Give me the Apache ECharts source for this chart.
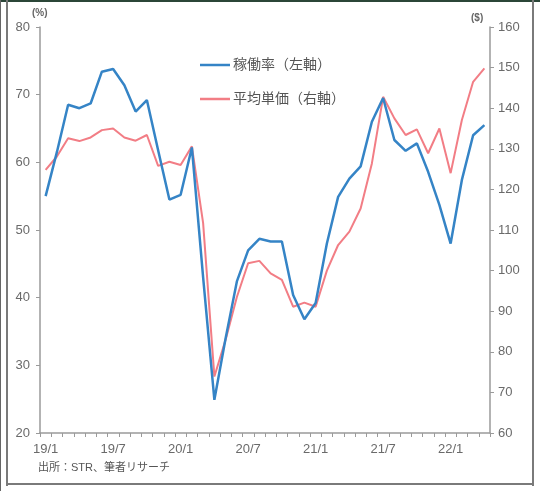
<!DOCTYPE html>
<html>
<head>
<meta charset="utf-8">
<script src="https://cdn.jsdelivr.net/npm/echarts@6/dist/echarts.min.js"></script>
<style>
html,body{margin:0;padding:0;background:#fff;}
#wrap{position:relative;width:540px;height:491px;overflow:hidden;}
#chart{position:absolute;left:0;top:0;width:540px;height:491px;}
.ln{position:absolute;pointer-events:none;}
</style>
</head>
<body>
<div id="wrap">
<div id="chart"></div>
<div class="ln" style="left:0;top:0;width:540px;height:2px;background:#2b4638;"></div>
<div class="ln" style="left:0;top:0;width:1px;height:491px;background:#666;"></div>
<div class="ln" style="left:6px;top:0;width:2px;height:486px;background:#7a7a7a;"></div>
<div class="ln" style="left:532px;top:0;width:2px;height:486px;background:#7a7a7a;"></div>
<div class="ln" style="left:6px;top:483px;width:528px;height:2px;background:#7a7a7a;"></div>
</div>
<script>
const categories = [
 '19/1','19/2','19/3','19/4','19/5','19/6','19/7','19/8','19/9','19/10','19/11','19/12',
 '20/1','20/2','20/3','20/4','20/5','20/6','20/7','20/8','20/9','20/10','20/11','20/12',
 '21/1','21/2','21/3','21/4','21/5','21/6','21/7','21/8','21/9','21/10','21/11','21/12',
 '22/1','22/2','22/3','22/4'
];
const occupancy = [
 55.0,61.5,68.5,68.0,68.7,73.4,73.8,71.4,67.5,69.2,61.8,54.5,
 55.2,62.2,43.0,24.9,34.0,42.4,47.0,48.7,48.3,48.3,40.4,36.8,
 39.2,48.0,54.9,57.6,59.4,66.0,69.5,63.3,61.7,62.8,58.6,53.7,
 48.0,57.4,64.0,65.5
];
const adr = [
 124.8,128.1,132.6,131.9,132.8,134.6,135.0,132.8,132.0,133.4,125.8,126.8,
 126.0,130.6,111.7,73.9,83.0,93.5,101.8,102.4,99.3,97.7,91.1,92.1,
 91.1,100.0,106.3,109.6,115.3,126.4,142.8,137.5,133.4,134.8,128.9,135.0,
 124.0,137.1,146.5,149.8
];
const seriesNames = ['稼働率（左軸）','平均単価（右軸）'];
const sourceText = '出所：STR、筆者リサーチ';

const FONT = '"Liberation Sans", Arial, "Noto Sans CJK JP", sans-serif';
const BLUE = '#3584c6';
const RED = '#f27d85';
const chart = echarts.init(document.getElementById('chart'));
const axisGray = '#9a9a9a';
const labelGray = '#6a6a6a';
const legendBase = {
  orient: 'vertical', left: 200, padding: 0, itemWidth: 30, itemHeight: 2.5,
  icon: 'rect', itemGap: 5,
  textStyle: {fontSize: 14, color: '#555', fontFamily: FONT, padding: [0, 0, 0, -2]}
};
chart.setOption({
  animation: false,
  backgroundColor: '#fff',
  textStyle: {fontFamily: FONT},
  grid: {left: 40, right: 50, top: 27, bottom: 58, containLabel: false},
  legend: [
    Object.assign({}, legendBase, {top: 58, data: [seriesNames[0]]}),
    Object.assign({}, legendBase, {top: 92, data: [seriesNames[1]]})
  ],
  graphic: [
    {type: 'text', left: 32, top: 8, style: {text: '(%)', fontSize: 10, fontWeight: 'bold', fill: '#666', fontFamily: FONT}},
    {type: 'text', left: 471, top: 13, style: {text: '($)', fontSize: 10, fontWeight: 'bold', fill: '#666', fontFamily: FONT}},
    {type: 'text', left: 38, top: 462, style: {text: sourceText, fontSize: 11, fill: '#555', fontFamily: FONT}}
  ],
  xAxis: {
    type: 'category', data: categories, boundaryGap: true,
    axisLine: {lineStyle: {color: axisGray, width: 1.5}},
    axisTick: {show: true, interval: 0, length: 4, lineStyle: {color: axisGray}},
    axisLabel: {interval: 5, color: labelGray, fontSize: 13, margin: 10, fontFamily: FONT},
    splitLine: {show: false}
  },
  yAxis: [
    {type: 'value', min: 20, max: 80, interval: 10, position: 'left',
     axisLine: {show: true, lineStyle: {color: axisGray, width: 1.5}},
     axisTick: {show: true, length: 4, lineStyle: {color: axisGray}},
     axisLabel: {color: labelGray, fontSize: 13, margin: 10, fontFamily: FONT},
     splitLine: {show: false}},
    {type: 'value', min: 60, max: 160, interval: 10, position: 'right',
     axisLine: {show: true, lineStyle: {color: axisGray, width: 1.5}},
     axisTick: {show: true, length: 4, lineStyle: {color: axisGray}},
     axisLabel: {color: labelGray, fontSize: 13, margin: 8, fontFamily: FONT},
     splitLine: {show: false}}
  ],
  series: [
    {name: seriesNames[0], type: 'line', yAxisIndex: 0, data: occupancy,
     symbol: 'none', itemStyle: {color: BLUE}, lineStyle: {color: BLUE, width: 2.5}, z: 3},
    {name: seriesNames[1], type: 'line', yAxisIndex: 1, data: adr,
     symbol: 'none', itemStyle: {color: RED}, lineStyle: {color: RED, width: 2}, z: 2}
  ]
});
</script>
</body>
</html>
